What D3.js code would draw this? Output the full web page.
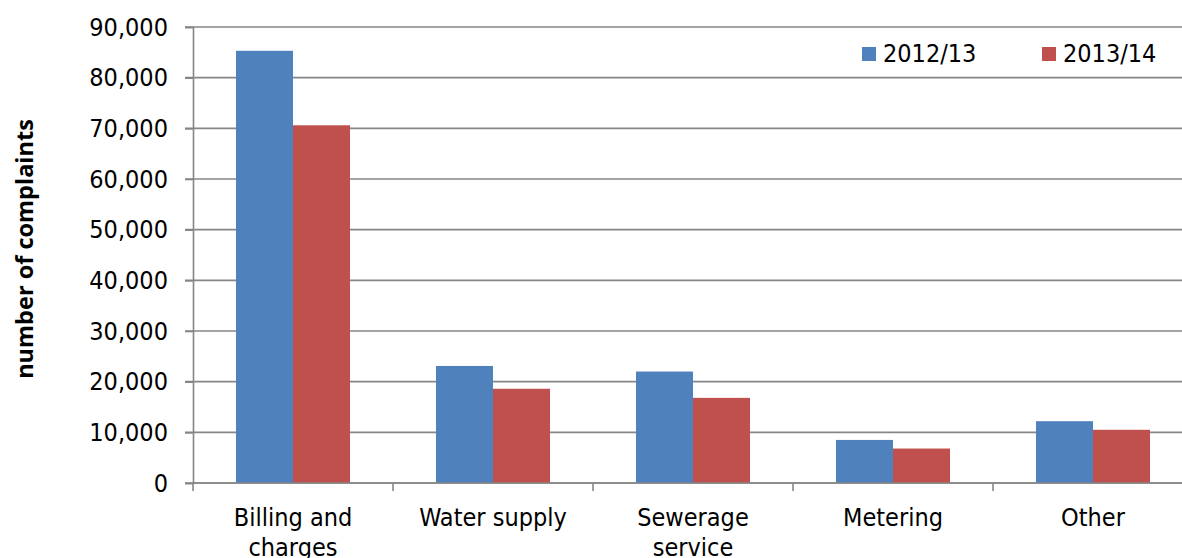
<!DOCTYPE html>
<html>
<head>
<meta charset="utf-8">
<script src="https://cdn.jsdelivr.net/npm/d3@7/dist/d3.min.js"></script>
<style>
  html, body { margin: 0; padding: 0; background: #fff; }
  svg { display: block; }
  text { font-family: "DejaVu Sans Condensed", "DejaVu Sans", sans-serif; fill: #000; }
</style>
</head>
<body>
<svg id="chart" width="1182" height="558"></svg>
<script>
// Complaint categories (line breaks mark wrapped axis labels)
const categories = ["Billing and\ncharges", "Water supply", "Sewerage\nservice", "Metering", "Other"];
const seriesNames = ["2012/13", "2013/14"];
const values2012 = [85300, 23100, 22000, 8500, 12200];
const values2013 = [70600, 18600, 16800, 6800, 10500];
const yTicks = [0, 10000, 20000, 30000, 40000, 50000, 60000, 70000, 80000, 90000];
const colors = ["#4F81BD", "#C0504D"];

const svg = d3.select("#chart");
const plotLeft = 193, plotRight = 1193, plotTop = 27, plotBottom = 483;

const x0 = d3.scaleBand().domain(categories).range([plotLeft, plotRight]).padding(0);
const x1 = d3.scaleBand().domain(seriesNames).range([43, 157]).padding(0);
const y = d3.scaleLinear().domain([0, 90000]).range([plotBottom, plotTop]);

const gridColor = "#868686";

// horizontal gridlines
svg.append("g")
  .selectAll("line")
  .data(yTicks)
  .join("line")
  .attr("x1", plotLeft - 8).attr("x2", plotRight)
  .attr("y1", d => y(d)).attr("y2", d => y(d))
  .attr("stroke", gridColor).attr("stroke-width", 1.6);

// bars
const series = [values2012, values2013];
const groups = svg.append("g");
categories.forEach((c, i) => {
  seriesNames.forEach((s, j) => {
    groups.append("rect")
      .attr("x", x0(c) + x1(s))
      .attr("width", x1.bandwidth())
      .attr("y", y(series[j][i]))
      .attr("height", y(0) - y(series[j][i]))
      .attr("fill", colors[j]);
  });
});

// y axis
const yAxis = d3.axisLeft(y).tickValues(yTicks).tickSize(8).tickPadding(17).tickFormat(d3.format(","));
const gy = svg.append("g").attr("transform", `translate(${plotLeft},0)`).call(yAxis);
gy.attr("font-family", null).attr("font-size", null);
gy.select(".domain").attr("stroke", gridColor).attr("stroke-width", 1.6);
gy.selectAll(".tick line").attr("stroke", gridColor).attr("stroke-width", 1.6);
gy.selectAll(".tick text").style("font-size", "25px").attr("fill", "#000");

// x axis baseline and category ticks
svg.append("line")
  .attr("x1", plotLeft).attr("x2", plotRight).attr("y1", plotBottom).attr("y2", plotBottom)
  .attr("stroke", gridColor).attr("stroke-width", 1.6);
const boundaries = categories.map(c => x0(c)).concat([plotRight]);
svg.append("g").selectAll("line").data(boundaries).join("line")
  .attr("x1", d => d).attr("x2", d => d)
  .attr("y1", plotBottom).attr("y2", plotBottom + 8)
  .attr("stroke", gridColor).attr("stroke-width", 1.6);

// category labels
const labels = svg.append("g");
categories.forEach(c => {
  const cx = x0(c) + x0.bandwidth() / 2;
  const t = labels.append("text")
    .attr("text-anchor", "middle")
    .style("font-size", "25px")
    .attr("x", cx)
    .attr("y", 526);
  c.split("\n").forEach((line, k) => {
    t.append("tspan")
      .attr("x", cx)
      .attr("dy", k === 0 ? 0 : 30)
      .text(line);
  });
});

// y axis title
svg.append("text")
  .attr("transform", "translate(33,249) rotate(-90)")
  .attr("text-anchor", "middle")
  .style("font-family", "'Open Sans', sans-serif")
  .style("font-weight", "bold")
  .style("font-size", "23.5px")
  .text("number of complaints");

// legend
const legendX = [862, 1042];
seriesNames.forEach((s, j) => {
  svg.append("rect")
    .attr("x", legendX[j]).attr("y", 47)
    .attr("width", 14).attr("height", 14)
    .attr("fill", colors[j]);
  svg.append("text")
    .attr("x", legendX[j] + 21).attr("y", 62)
    .style("font-size", "25px")
    .text(s);
});
</script>
</body>
</html>
